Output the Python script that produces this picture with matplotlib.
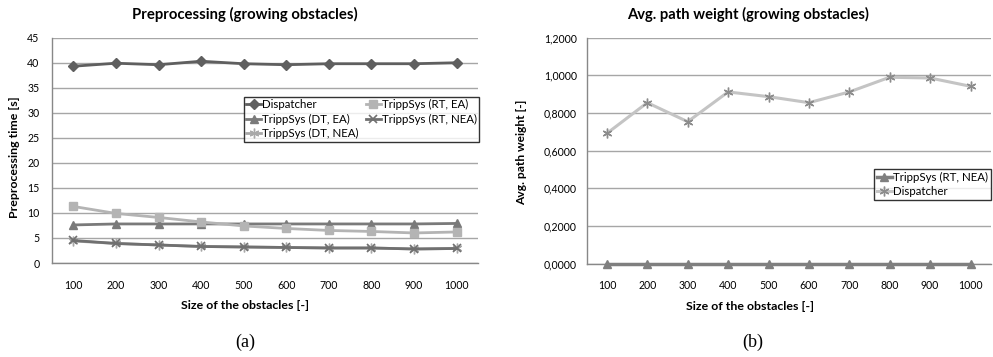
import matplotlib
matplotlib.use("Agg")
import matplotlib.pyplot as plt
import numpy as np

sizes = ["100", "200", "300", "400", "500", "600", "700", "800", "900", "1000"]

# (a) Preprocessing time [s]
dispatcher_a = [39.3, 39.9, 39.6, 40.3, 39.8, 39.6, 39.8, 39.8, 39.8, 40.0]
rt_ea = [11.3, 9.9, 9.1, 8.2, 7.4, 6.9, 6.5, 6.3, 6.0, 6.2]
dt_ea = [7.6, 7.8, 7.8, 7.8, 7.8, 7.8, 7.8, 7.8, 7.8, 7.9]
rt_nea = [4.5, 3.9, 3.6, 3.3, 3.2, 3.1, 3.0, 3.0, 2.8, 2.9]
dt_nea = [4.4, 3.9, 3.6, 3.3, 3.2, 3.1, 3.0, 3.0, 2.8, 2.9]

# (b) Avg. path weight [-]
rt_nea_b = [0.0] * 10
dispatcher_b = [0.692, 0.855, 0.754, 0.912, 0.887, 0.855, 0.912, 0.990, 0.986, 0.942]

plt.rcParams['font.family'] = ['Lato', 'DejaVu Sans']

W, H = 993, 357
fig = plt.figure(figsize=(W/100, H/100), dpi=100)
ax1 = fig.add_axes([52/W, 1-263/H, 426/W, (263-37.7)/H])
ax2 = fig.add_axes([586.7/W, 1-263.7/H, 404/W, (263.7-37.7)/H])
renderer = fig.canvas.get_renderer()

def fit(t, target, vertical=False):
    """Scale a text's font size so that its rendered length matches target px."""
    for _ in range(2):
        bb = t.get_window_extent(renderer)
        cur = bb.height if vertical else bb.width
        if cur > 0:
            t.set_fontsize(t.get_fontsize() * target / cur)

def fit_size(text, target, weight='normal'):
    t = fig.text(0, 0, text, fontsize=10, fontweight=weight)
    fit(t, target)
    fs = t.get_fontsize()
    t.remove()
    return fs

x = np.arange(1, 11)
grid_c = '#a6a6a6'
tick_fs = fit_size("1000", 24)
leg_fs = fit_size("TrippSys (DT, NEA)", 97)
lab_fs = fit_size("Size of the obstacles [-]", 127, 'bold')

def style(ax, ypad, xcenter_px, ylabel, ylab_len):
    ax.set_xlim(0.5, 10.5)
    ax.set_xticks(x)
    ax.set_xticklabels(sizes)
    ax.tick_params(length=0, labelsize=tick_fs)
    ax.tick_params(axis='y', pad=ypad)
    ax.tick_params(axis='x', pad=12)
    for s in ['top', 'right']:
        ax.spines[s].set_visible(False)
    for s in ['left', 'bottom']:
        ax.spines[s].set_color('#888888')
        ax.spines[s].set_linewidth(1.0)
    ax.yaxis.grid(True, color=grid_c, linewidth=1.0)
    ax.set_axisbelow(True)
    bb = ax.get_position()
    ax.set_xlabel("Size of the obstacles [-]", fontsize=lab_fs, fontweight='bold')
    ax.xaxis.set_label_coords((xcenter_px / W - bb.x0) / bb.width, -(300 - 263) / 226)
    yl = ax.set_ylabel(ylabel, fontsize=lab_fs, fontweight='bold')
    fit(yl, ylab_len, vertical=True)

style(ax1, 9, 245, "Preprocessing time [s]", 121)
ax1.yaxis.set_label_coords(-(52 - 20) / 426, (263 - 157) / (263 - 37.7))
ax1.set_ylim(0, 45)
ax1.set_yticks(np.arange(0, 46, 5))
ax1.plot(x, dispatcher_a, color='#5f5f5f', lw=2, marker='D', ms=5, label='Dispatcher', zorder=5)
ax1.plot(x, dt_ea, color='#7a7a7a', lw=2, marker='^', ms=6, label='TrippSys (DT, EA)', zorder=4)
ax1.plot(x, dt_nea, color='#a8a8a8', lw=2, marker=(6, 2, 0), ms=7, mew=1, label='TrippSys (DT, NEA)', zorder=3)
ax1.plot(x, rt_ea, color='#b4b4b4', lw=2, marker='s', ms=6, label='TrippSys (RT, EA)', zorder=4)
ax1.plot(x, rt_nea, color='#707070', lw=2, marker='x', ms=6, mew=1.2, label='TrippSys (RT, NEA)', zorder=3)
leg = ax1.legend(ncol=2, loc='upper right',
                 bbox_to_anchor=(1.003, (263 - 97) / (263 - 37.7)), fontsize=leg_fs, frameon=True, fancybox=False,
                 borderpad=0.2, labelspacing=0.3, handlelength=1.3, handletextpad=0.1,
                 columnspacing=0.6, borderaxespad=0)
leg.get_frame().set_edgecolor('black')
leg.get_frame().set_linewidth(1.0)

style(ax2, 7, 750, "Avg. path weight [-]", 105)
ax2.yaxis.set_label_coords(-(586.7 - 527) / 404, (263.7 - 152) / 226)
ax2.set_ylim(0, 1.2)
ax2.set_yticks(np.arange(0, 1.21, 0.2))
ax2.set_yticklabels([f"{v:.4f}".replace('.', ',') for v in np.arange(0, 1.21, 0.2)])
ax2.plot(x, rt_nea_b, color='#7f7f7f', lw=2.5, marker='^', ms=6, label='TrippSys (RT, NEA)', zorder=5, clip_on=False)
ax2.plot(x, dispatcher_b, color='#c4c4c4', lw=2.2, marker=(6, 2, 0), ms=7, mew=1, mec='#8c8c8c', label='Dispatcher', zorder=4)
leg2 = ax2.legend(loc='upper right', bbox_to_anchor=(1.0, (263.7 - 169) / 226), fontsize=leg_fs, frameon=True,
                  fancybox=False, borderpad=0.25, labelspacing=0.3, handlelength=1.3, handletextpad=0.1,
                  borderaxespad=0)
leg2.get_frame().set_edgecolor('black')
leg2.get_frame().set_linewidth(1.0)

t1 = fig.text(245/W, 1-14/H, "Preprocessing (growing obstacles)", fontsize=10, fontweight='bold', ha='center', va='center')
fit(t1, 224)
t2 = fig.text(748.5/W, 1-14/H, "Avg. path weight (growing obstacles)", fontsize=10, fontweight='bold', ha='center', va='center')
fit(t2, 243)

fig.text(245/W, 1-342/H, "(a)", fontsize=13, family=['Liberation Serif'], ha='center', va='center')
fig.text(753/W, 1-342/H, "(b)", fontsize=13, family=['Liberation Serif'], ha='center', va='center')

fig.savefig("out.png", dpi=100)
